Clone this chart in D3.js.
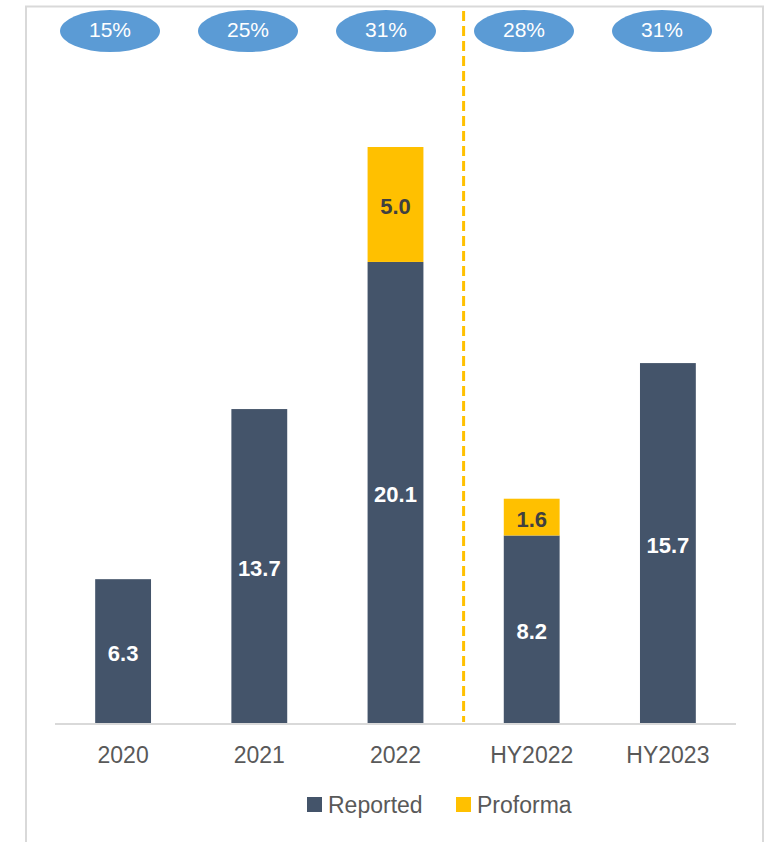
<!DOCTYPE html>
<html>
<head>
<meta charset="utf-8">
<script src="https://cdn.jsdelivr.net/npm/d3@7"></script>
<style>
  html, body { margin: 0; padding: 0; background: #fff; }
  svg { display: block; font-family: "Liberation Sans", Arial, sans-serif; }
</style>
</head>
<body>
<svg id="chart" width="769" height="842"></svg>
<script>
// Periods on the category axis
const periods = ["2020", "2021", "2022", "HY2022", "HY2023"];
// Reported and pro-forma values per period
const reported = [6.3, 13.7, 20.1, 8.2, 15.7];
const proforma = [0, 0, 5.0, 1.6, 0];
// Margin bubbles shown above each period
const margins = ["15%", "25%", "31%", "28%", "31%"];
// Legend entries
const seriesNames = ["Reported", "Proforma"];

const colors = { Reported: "#44546A", Proforma: "#FFC000" };

const svg = d3.select("#chart");
const W = 769, H = 842;

// Frame
svg.append("rect")
  .attr("x", 26).attr("y", 6.5)
  .attr("width", 737).attr("height", H)
  .attr("fill", "#fff")
  .attr("stroke", "#d9d9d9").attr("stroke-width", 2);

const x = d3.scaleBand().domain(periods).range([55, 736]).paddingInner(0.59).paddingOuter(0.295);
const y = d3.scaleLinear().domain([0, 25.1]).range([724, 147]);

const rows = periods.map((p, i) => ({ period: p, Reported: reported[i], Proforma: proforma[i] }));
const stacked = d3.stack().keys(seriesNames)(rows);

// Bars
svg.append("g").selectAll("g")
  .data(stacked).join("g")
  .attr("fill", d => colors[d.key])
  .selectAll("rect")
  .data(d => d.filter(s => s[1] - s[0] > 0).map(s => ({ s, key: d.key })))
  .join("rect")
  .attr("x", d => x(d.s.data.period))
  .attr("width", x.bandwidth())
  .attr("y", d => y(d.s[1]))
  .attr("height", d => y(d.s[0]) - y(d.s[1]));

// Value labels inside segments
svg.append("g").selectAll("text")
  .data(stacked.flatMap(layer => layer.filter(s => s[1] - s[0] > 0).map(s => ({ s, key: layer.key }))))
  .join("text")
  .attr("x", d => x(d.s.data.period) + x.bandwidth() / 2)
  .attr("y", d => (y(d.s[0]) + y(d.s[1])) / 2 + 1.5)
  .attr("dy", "0.36em")
  .attr("text-anchor", "middle")
  .attr("font-size", 22)
  .attr("font-weight", "bold")
  .attr("fill", d => d.key === "Reported" ? "#ffffff" : "#404040")
  .text(d => (d.s[1] - d.s[0]).toFixed(1));

// Category axis
const xAxis = svg.append("g").attr("transform", "translate(0,724)")
  .call(d3.axisBottom(x).tickSize(0).tickPadding(31));
xAxis.select(".domain").attr("stroke", "#d9d9d9").attr("stroke-width", 2)
  .attr("d", "M55,0H736");
xAxis.selectAll("text").attr("font-size", 23).attr("fill", "#595959")
  .attr("dy", "0.36em")
  .attr("font-family", "Liberation Sans, Arial, sans-serif");

// Divider between full-year and half-year periods
const divX = (x("2022") + x.bandwidth() + x("HY2022")) / 2;
svg.append("line")
  .attr("x1", divX).attr("x2", divX)
  .attr("y1", 11).attr("y2", 722)
  .attr("stroke", "#FFC000").attr("stroke-width", 3)
  .attr("stroke-dasharray", "10,5");

// Margin bubbles
const bx = d3.scalePoint().domain(periods).range([110, 662]);
const bubbles = svg.append("g").selectAll("g")
  .data(periods.map((p, i) => ({ p, m: margins[i] })))
  .join("g")
  .attr("transform", d => `translate(${bx(d.p)},31)`);
bubbles.append("ellipse").attr("rx", 50).attr("ry", 21).attr("fill", "#5B9BD5");
bubbles.append("text")
  .attr("y", -2).attr("dy", "0.36em")
  .attr("text-anchor", "middle")
  .attr("font-size", 21).attr("fill", "#fff")
  .text(d => d.m);

// Legend
const legend = svg.append("g").attr("transform", "translate(307,805)");
const legendX = [0, 149];
seriesNames.forEach((name, i) => {
  const g = legend.append("g").attr("transform", `translate(${legendX[i]},0)`);
  g.append("rect").attr("x", 0).attr("y", -8).attr("width", 15).attr("height", 15).attr("fill", colors[name]);
  g.append("text").attr("x", 21).attr("dy", "0.36em")
    .attr("font-size", 23).attr("fill", "#595959").text(name);
});
</script>
</body>
</html>
